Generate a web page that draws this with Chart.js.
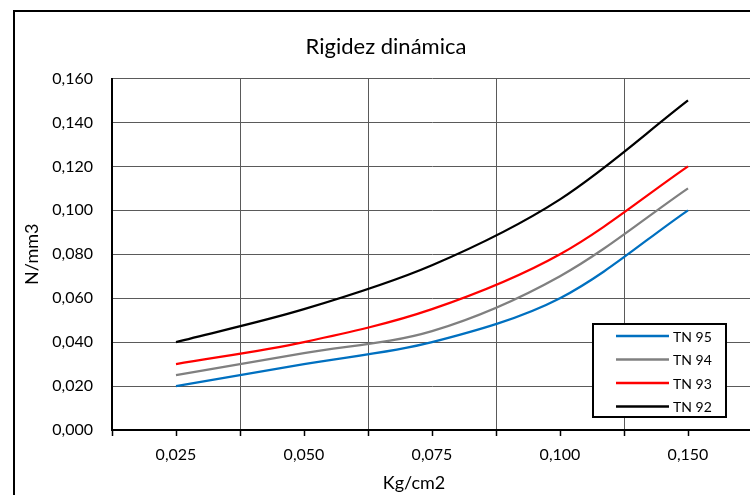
<!DOCTYPE html>
<html>
<head>
<meta charset="utf-8">
<script src="https://cdn.jsdelivr.net/npm/chart.js@4.4.1/dist/chart.umd.min.js"></script>
<style>
  html, body { margin: 0; padding: 0; background: #fff; overflow: hidden; width: 750px; height: 495px; }
  #wrap { position: absolute; left: 0; top: 0; width: 780px; height: 495px; }
</style>
</head>
<body>
<div id="wrap"><canvas id="c" width="780" height="495"></canvas></div>
<script>
// ---- data ----
const categories = ['0,025', '0,050', '0,075', '0,100', '0,150'];
const seriesNames = ['TN 95', 'TN 94', 'TN 93', 'TN 92'];
const tn95 = [0.020, 0.030, 0.040, 0.060, 0.100];
const tn94 = [0.025, 0.035, 0.045, 0.070, 0.110];
const tn93 = [0.030, 0.040, 0.055, 0.080, 0.120];
const tn92 = [0.040, 0.055, 0.075, 0.105, 0.150];
const yTickValues = [0, 0.02, 0.04, 0.06, 0.08, 0.10, 0.12, 0.14, 0.16];
const yTickLabels = ['0,000', '0,020', '0,040', '0,060', '0,080', '0,100', '0,120', '0,140', '0,160'];
const titleText = 'Rigidez dinámica';
const xTitleText = 'Kg/cm2';
const yTitleText = 'N/mm3';

const colors = ['#0070C0', '#808080', '#FF0000', '#000000'];
const FONT = 'Lato';

const outerBorder = {
  id: 'outerBorder',
  beforeDraw(chart) {
    const ctx = chart.ctx;
    ctx.save();
    ctx.fillStyle = '#fff';
    ctx.fillRect(0, 0, chart.width, chart.height);
    ctx.strokeStyle = '#000';
    ctx.lineWidth = 2;
    ctx.strokeRect(14, 11, 820, 520);
    ctx.restore();
  }
};

const extras = {
  id: 'extras',
  afterDraw(chart) {
    const ctx = chart.ctx;
    const xs = chart.scales.x;
    const area = chart.chartArea;
    ctx.save();
    // minor tick marks at category centres
    ctx.strokeStyle = '#000';
    ctx.lineWidth = 1.5;
    for (let i = 0; i < categories.length; i++) {
      const px = Math.round(xs.getPixelForValue(i)) + 0.5;
      ctx.beginPath();
      ctx.moveTo(px, area.bottom);
      ctx.lineTo(px, area.bottom + 6);
      ctx.stroke();
    }
    // x axis title
    ctx.fillStyle = '#000';
    ctx.font = '18px ' + FONT;
    ctx.textAlign = 'center';
    ctx.textBaseline = 'middle';
    ctx.fillText(xTitleText, 414, 483);
    // legend
    const lx = 593, ly = 324, lw = 133, lh = 93;
    ctx.fillStyle = '#fff';
    ctx.fillRect(lx, ly, lw, lh);
    ctx.strokeStyle = '#000';
    ctx.lineWidth = 2;
    ctx.strokeRect(lx, ly, lw, lh);
    ctx.font = '14px ' + FONT;
    ctx.textAlign = 'left';
    chart.data.datasets.forEach((ds, i) => {
      const y = 336 + i * 23.5;
      ctx.strokeStyle = ds.borderColor;
      ctx.lineWidth = 2.5;
      ctx.beginPath();
      ctx.moveTo(616, y);
      ctx.lineTo(669, y);
      ctx.stroke();
      ctx.fillStyle = '#000';
      ctx.fillText(ds.label, 673, y + 1);
    });
    ctx.restore();
  }
};

const dataArrays = [tn95, tn94, tn93, tn92];

new Chart(document.getElementById('c'), {
  type: 'line',
  data: {
    labels: categories,
    datasets: dataArrays.map((arr, i) => ({
      label: seriesNames[i],
      data: arr,
      borderColor: colors[i],
      backgroundColor: colors[i],
      borderWidth: 2.25,
      pointRadius: 0,
      pointHoverRadius: 0,
      tension: 0.33,
      fill: false
    }))
  },
  options: {
    responsive: false,
    animation: false,
    devicePixelRatio: 1,
    layout: { padding: { left: 20, right: 28, top: 0, bottom: 0 } },
    plugins: {
      legend: { display: false },
      tooltip: { enabled: false },
      title: {
        display: true,
        text: titleText,
        color: '#000',
        font: { family: FONT, size: 22, weight: 'normal' },
        padding: { top: 33.5, bottom: 18.6 }
      }
    },
    scales: {
      x: {
        type: 'category',
        offset: true,
        grid: {
          offset: true,
          color: '#5a5a5a',
          lineWidth: 1,
          drawTicks: true,
          tickLength: 6,
          tickColor: '#000',
          tickWidth: 1.5
        },
        border: { display: true, color: '#000', width: 2 },
        ticks: {
          color: '#000',
          font: { family: FONT, size: 16 },
          padding: 9,
          maxRotation: 0,
          autoSkip: false
        },
        afterFit(scale) { scale.height = 65; }
      },
      y: {
        min: 0,
        max: 0.16,
        grid: { color: '#5a5a5a', lineWidth: 1, drawTicks: false },
        border: { display: true, color: '#000', width: 2 },
        afterBuildTicks(scale) { scale.ticks = yTickValues.map(v => ({ value: v })); },
        ticks: {
          color: '#000',
          font: { family: FONT, size: 16 },
          padding: 19,
          callback: (v) => {
            const idx = yTickValues.findIndex(t => Math.abs(t - v) < 1e-9);
            return idx >= 0 ? yTickLabels[idx] : '';
          }
        },
        title: {
          display: true,
          text: yTitleText,
          color: '#000',
          font: { family: FONT, size: 18 },
          padding: { top: 1, bottom: 0 }
        },
        afterFit(scale) { scale.width = 92; }
      }
    }
  },
  plugins: [outerBorder, extras]
});
</script>
</body>
</html>
